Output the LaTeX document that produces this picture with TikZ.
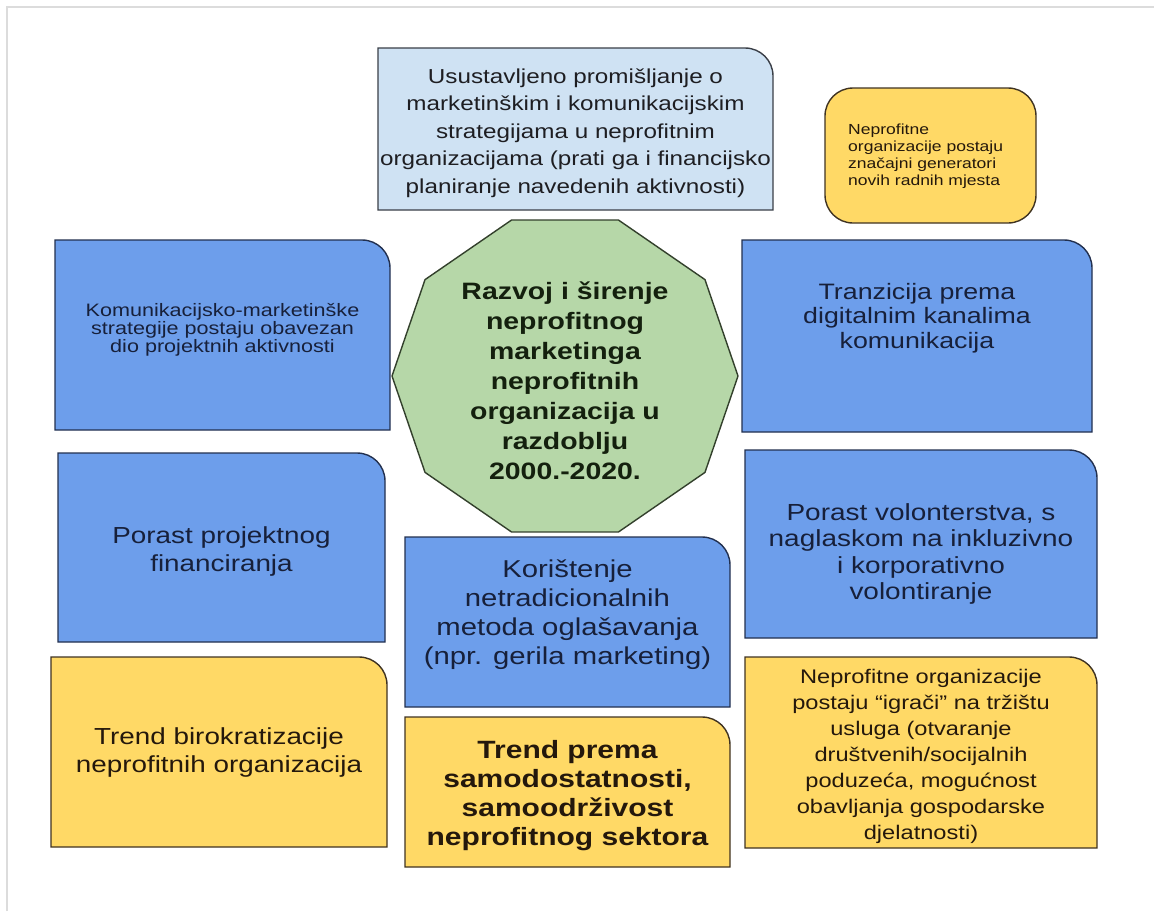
\documentclass[tikz,border=0pt]{standalone}
\usepackage{fontspec}
\setmainfont{Liberation Sans}[FakeStretch=1.2]
\usetikzlibrary{calc}
\definecolor{cblue}{HTML}{6D9EEB}
\definecolor{cyellow}{HTML}{FFD966}
\definecolor{clight}{HTML}{CFE2F3}
\definecolor{cgreen}{HTML}{B6D7A8}
\definecolor{bluedraw}{HTML}{22304F}
\definecolor{yellowdraw}{HTML}{3F3322}
\definecolor{greendraw}{HTML}{33402C}
\definecolor{lightdraw}{HTML}{3A3F47}
\definecolor{bluetext}{HTML}{17203A}
\definecolor{yellowtext}{HTML}{24180C}
\definecolor{greentext}{HTML}{14200E}
\definecolor{lighttext}{HTML}{1E1E22}
\definecolor{framec}{HTML}{DCDCDC}
\tikzset{
  blueshape/.style={fill=cblue, draw=bluedraw, line width=1.4pt},
  yellowshape/.style={fill=cyellow, draw=yellowdraw, line width=1.4pt},
  lightshape/.style={fill=clight, draw=lightdraw, line width=1.4pt},
  greenshape/.style={fill=cgreen, draw=greendraw, line width=1.4pt},
  txt/.style={align=center, inner sep=0pt},
  bluetxt/.style={txt, text=bluetext},
  yellowtxt/.style={txt, text=yellowtext},
}
\newcommand\trbox[6]{%
  \node[minimum width=#4pt, minimum height=#5pt, inner sep=0pt, outer sep=0pt] (#1) at (#2,#3) {};
  \path[#6] (#1.south west) -- (#1.north west) -- ([xshift=-28pt]#1.north east)
    .. controls ([xshift=-12.5pt]#1.north east) and ([yshift=-12.5pt]#1.north east) .. ([yshift=-28pt]#1.north east)
    -- (#1.south east) -- cycle;}
\begin{document}
\begin{tikzpicture}[x=1pt, y=-1pt]
\useasboundingbox (0,0) rectangle (1154,911);
\fill[white] (0,0) rectangle (1154,911);
\draw[framec, line width=2pt] (7,911) -- (7,7) -- (1154,7);

% top light blue box
\trbox{A}{575.5}{129}{395}{162}{lightshape}
\node[txt, text=lighttext, font=\fontsize{20.2}{27.5}\selectfont] (At) at (575.5,133)
  {Usustavljeno promišljanje o\\marketinškim i komunikacijskim\\strategijama u neprofitnim\\organizacijama (prati ga i financijsko\\planiranje navedenih aktivnosti)};

% small yellow box
\node[yellowshape, rounded corners=28pt, minimum width=211pt, minimum height=135pt, inner sep=0pt] (B) at (930.5,155.5) {};
\node[yellowtxt, align=left, anchor=west, font=\fontsize{14.6}{17}\selectfont] (Bt) at (848,156)
  {Neprofitne\\organizacije postaju\\značajni generatori\\novih radnih mjesta};

% left blue 1
\trbox{C}{222.5}{335}{335}{190}{blueshape}
\node[bluetxt, font=\fontsize{18}{16.5}\selectfont] (Ct) at (222.5,330)
  {Komunikacijsko-marketinške\\strategije postaju obavezan\\dio projektnih aktivnosti};

% right blue 1
\trbox{D}{917}{336}{350}{192}{blueshape}
\node[bluetxt, font=\fontsize{22.3}{24.5}\selectfont] (Dt) at (917,318)
  {Tranzicija prema\\digitalnim kanalima\\komunikacija};

% center decagon
\begin{scope}[shift={(565,376)}]
\path[greenshape] (0:173 and 164) -- (36:173 and 164) -- (72:173 and 164) -- (108:173 and 164)
  -- (144:173 and 164) -- (180:173 and 164) -- (216:173 and 164) -- (252:173 and 164)
  -- (288:173 and 164) -- (324:173 and 164) -- cycle;
\end{scope}
\node[txt, text=greentext, font=\bfseries\fontsize{23.7}{30}\selectfont] (E) at (565,381)
  {Razvoj i širenje\\neprofitnog\\marketinga\\neprofitnih\\organizacija u\\razdoblju\\2000.-2020.};

% left blue 2
\trbox{F}{221.5}{547.5}{327}{189}{blueshape}
\node[bluetxt, font=\fontsize{23.2}{28}\selectfont] (Ft) at (221.5,551)
  {Porast projektnog\\financiranja};

% right blue 2
\trbox{G}{921}{544}{352}{188}{blueshape}
\node[bluetxt, font=\fontsize{23.3}{26.5}\selectfont] (Gt) at (921,554)
  {Porast volonterstva, s\\naglaskom na inkluzivno\\i korporativno\\volontiranje};

% center blue
\trbox{H}{567.5}{622}{325}{170}{blueshape}
\node[bluetxt, font=\fontsize{24.4}{29}\selectfont] (Ht) at (567.5,615)
  {Korištenje\\netradicionalnih\\metoda oglašavanja\\(npr. gerila marketing)};

% center yellow
\trbox{I}{567.5}{792}{325}{150}{yellowshape}
\node[yellowtxt, font=\bfseries\fontsize{25}{29}\selectfont] (It) at (567.5,796)
  {Trend prema\\samodostatnosti,\\samoodrživost\\neprofitnog sektora};

% left yellow
\trbox{J}{219}{752}{336}{190}{yellowshape}
\node[yellowtxt, font=\fontsize{23.2}{28}\selectfont] (Jt) at (219,752)
  {Trend birokratizacije\\neprofitnih organizacija};

% right yellow
\trbox{K}{921}{752.5}{352}{191}{yellowshape}
\node[yellowtxt, font=\fontsize{19.7}{26}\selectfont] (Kt) at (921,756)
  {Neprofitne organizacije\\postaju “igrači” na tržištu\\usluga (otvaranje\\društvenih/socijalnih\\poduzeća, mogućnost\\obavljanja gospodarske\\djelatnosti)};
\end{tikzpicture}
\end{document}
